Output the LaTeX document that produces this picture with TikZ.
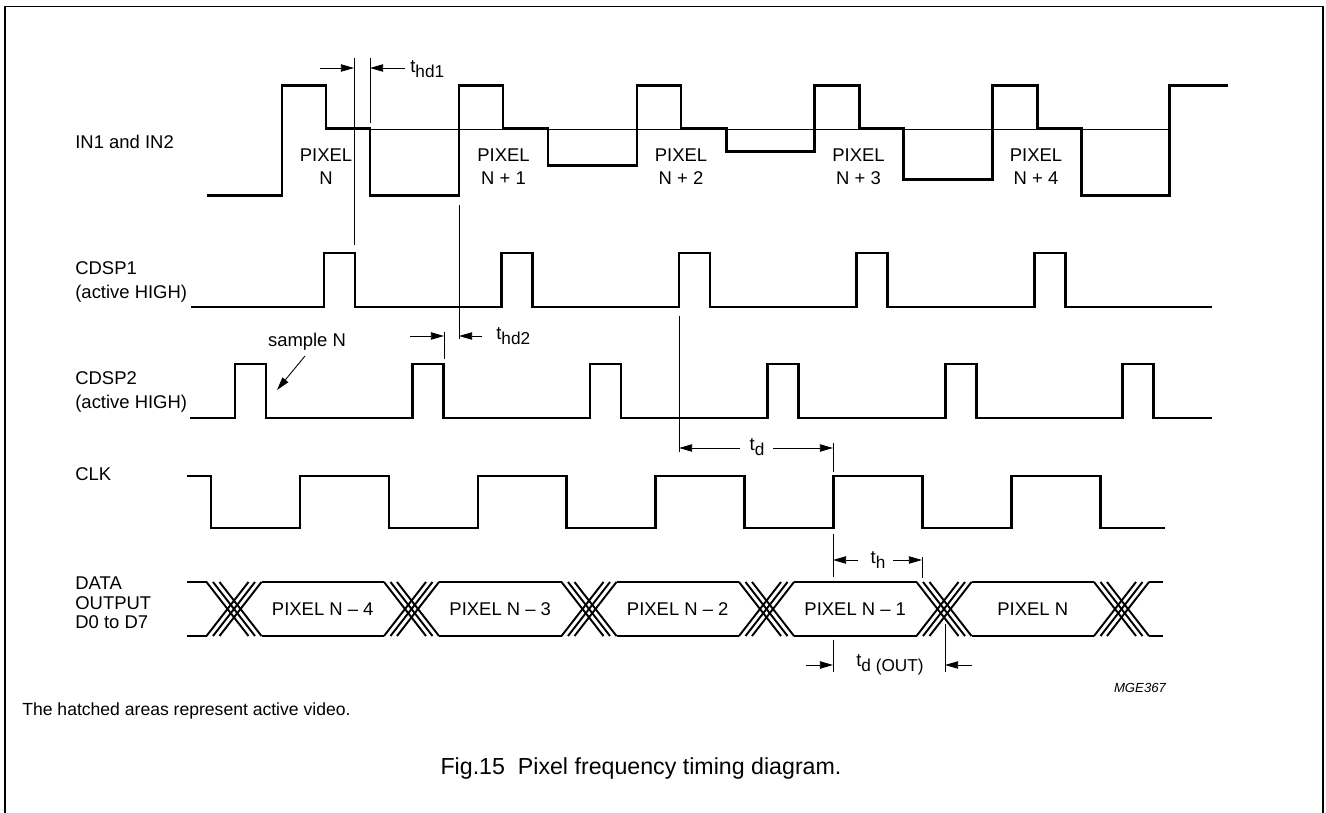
\documentclass[tikz,border=0pt]{standalone}
\usepackage{fontspec}
\setmainfont{Liberation Sans}
\usetikzlibrary{arrows.meta}

\newcommand{\tsub}[1]{t\raisebox{-0.5ex}{\fontsize{9.8}{10}\selectfont#1}}

\begin{document}
\begin{tikzpicture}[x=0.02cm,y=-0.02cm,
    wave/.style={line width=1.7pt},
    hatch/.style={line width=1.1pt},
    guide/.style={line width=0.5pt},
    dimarrow/.style={guide,-{Triangle[length=7.5pt,width=4.2pt]}},
    lbl/.style={anchor=west,inner sep=0pt,align=left,font=\fontsize{10.5}{13.4}\selectfont},
    txt/.style={inner sep=0pt,align=center,font=\fontsize{10.5}{13.2}\selectfont}]
  \useasboundingbox (0,0) rectangle (1326,813);
  % frame
  \draw[line width=0.8pt] (5,813) -- (5,6.5) -- (1323,6.5) -- (1323,813);

  % signal names
  \node[lbl] (in) at (75,142) {IN1 and IN2};
  \node[lbl] (cdsp1) at (75,282) {CDSP1\\(active HIGH)};
  \node[lbl] (cdsp2) at (75,392) {CDSP2\\(active HIGH)};
  \node[lbl] (clk) at (75,474) {CLK};
  \node[lbl,font=\fontsize{10.5}{11}\selectfont] (data) at (75,603) {DATA\\OUTPUT\\D0 to D7};

  % IN1 and IN2
  \draw[guide] (326,129) -- (1169,129);
  \draw[wave] (207,196) -| (282,86) -| (326,129) -| (370,196)
    -| (459,86) -| (503,129) -| (548,166)
    -| (637,86) -| (681,129) -| (726,152)
    -| (814,86) -| (859,129) -| (903,180)
    -| (992,86) -| (1037,129) -| (1081,196)
    -| (1169,86) -- (1228,86);
  \foreach \k/\lab in {0/N,1/N + 1,2/N + 2,3/N + 3,4/N + 4}
    \node[txt] (pix\k) at (326+177.5*\k,167) {PIXEL\\\lab};

  % CDSP1, CDSP2
  \draw[wave] (191,307) \foreach \x in {324,501.5,679,856.5,1034}{ -| (\x,253) -| (\x+31,307) } -- (1212,307);
  \draw[wave] (190,418) \foreach \x in {235,412.5,590,767.5,945,1122.5}{ -| (\x,364) -| (\x+31,418) } -- (1212,418);

  % CLK
  \draw[wave] (187,476) \foreach \x in {211,389,566.5,744,922}{ -| (\x,528) -| (\x+89,476) } -| (1100,528) -- (1165,528);

  % data output bus
  \foreach \c in {234,411.5,589,766.5,944,1121.5}
    \foreach \o in {-6.5,0,6.5}{
      \draw[hatch] (\c-21+\o,582) -- (\c+21+\o,636);
      \draw[hatch] (\c+21+\o,582) -- (\c-21+\o,636);
    }
  \draw[wave] (187,582) -- (206.5,582);
  \draw[wave] (187,636) -- (206.5,636);
  \foreach \c in {234,411.5,589,766.5,944}{
    \draw[wave] (\c+27.5,582) -- (\c+150,582);
    \draw[wave] (\c+27.5,636) -- (\c+150,636);
  }
  \draw[wave] (1149,582) -- (1163,582);
  \draw[wave] (1149,636) -- (1163,636);
  \foreach \k/\lab in {0/PIXEL N -- 4,1/PIXEL N -- 3,2/PIXEL N -- 2,3/PIXEL N -- 1,4/PIXEL N}
    \node[txt] (bus\k) at (322.75+177.5*\k,609) {\lab};

  % t_hd1
  \draw[guide] (354,58) -- (354,245);
  \draw[guide] (370,58) -- (370,123);
  \coordinate (hdA) at (354,68);
  \coordinate (hdB) at (370,68);
  \draw[dimarrow] (320,68) -- (hdA);
  \draw[dimarrow] (405,68) -- (hdB);
  \node[anchor=base west,inner sep=0pt,font=\fontsize{10.5}{12}\selectfont] (thdA) at (410,73) {\tsub{hd1}};

  % t_hd2
  \draw[guide] (459,205) -- (459,339);
  \draw[guide] (444,332) -- (444,359);
  \coordinate (hdC) at (444,336);
  \coordinate (hdD) at (459,336);
  \draw[dimarrow] (410,336) -- (hdC);
  \draw[dimarrow] (482,336) -- (hdD);
  \node[anchor=base west,inner sep=0pt,font=\fontsize{10.5}{12}\selectfont] (thdB) at (496,340) {\tsub{hd2}};

  % sample N
  \node[txt] (smp) at (307,342) {sample N};
  \draw[guide,-{Triangle[length=7.5pt,width=4.2pt]}] (305,356) -- (277,390);

  % t_d
  \draw[guide] (679,316) -- (679,452);
  \draw[guide] (833,443) -- (833,472);
  \coordinate (tdA) at (679,448);
  \coordinate (tdB) at (833,448);
  \node[anchor=base,inner sep=0pt,font=\fontsize{10.5}{12}\selectfont] (td) at (757,451) {\tsub{d}};
  \draw[dimarrow] (740,448) -- (tdA);
  \draw[dimarrow] (773,448) -- (tdB);

  % t_h
  \draw[guide] (833,534) -- (833,577);
  \draw[guide] (922,557) -- (922,578);
  \coordinate (thA) at (833,560);
  \coordinate (thB) at (922,560);
  \node[anchor=base,inner sep=0pt,font=\fontsize{10.5}{12}\selectfont] (th) at (878,564) {\tsub{h}};
  \draw[dimarrow] (858,560) -- (thA);
  \draw[dimarrow] (893,560) -- (thB);

  % t_d(OUT)
  \draw[guide] (833,640) -- (833,672);
  \draw[guide] (945,624) -- (945,672);
  \coordinate (toA) at (833,665);
  \coordinate (toB) at (945,665);
  \draw[dimarrow] (806,665) -- (toA);
  \draw[dimarrow] (972,665) -- (toB);
  \node[anchor=base,inner sep=0pt,font=\fontsize{10.5}{12}\selectfont] (tout) at (890,667) {\tsub{d (OUT)}};

  \node[inner sep=0pt,font=\fontsize{7.5}{8}\selectfont\itshape] (code) at (1140,688) {MGE367};

  % notes
  \node[anchor=west,inner sep=0pt,font=\fontsize{10}{12}\selectfont] (note) at (22,711) {The hatched areas represent active video.};
  \node[inner sep=0pt,font=\fontsize{13.2}{15}\selectfont] (cap) at (641,769) {Fig.15\ \ Pixel frequency timing diagram.};
\end{tikzpicture}
\end{document}
